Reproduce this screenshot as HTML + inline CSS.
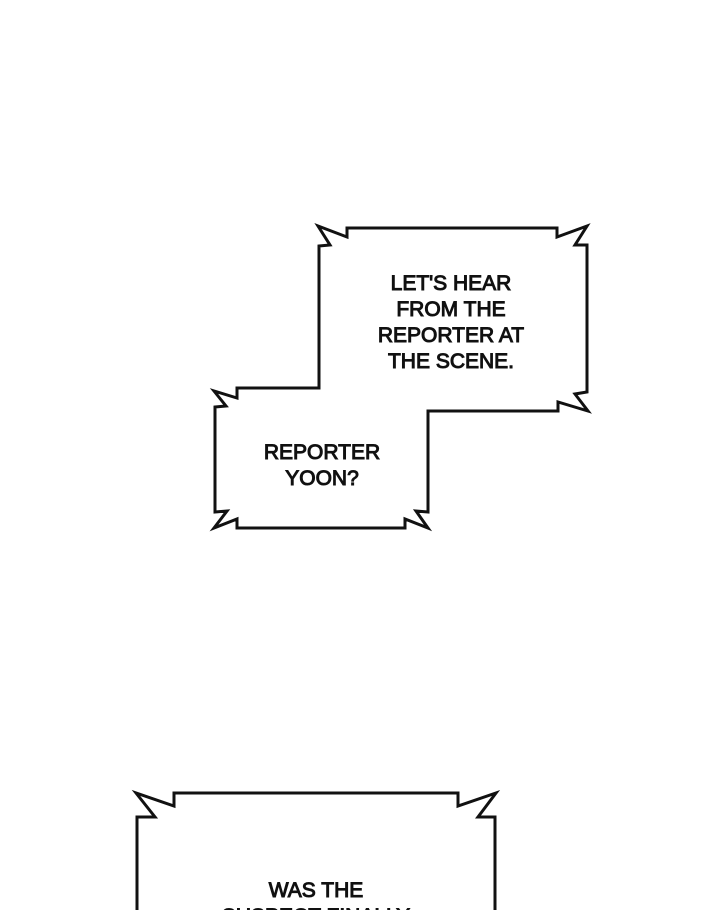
<!DOCTYPE html>
<html><head><meta charset="utf-8"><style>
html,body{margin:0;padding:0;background:#fff;}
svg{display:block}
text{font-family:"Liberation Sans",sans-serif;font-size:21px;fill:#111;stroke:#111;stroke-width:1;text-anchor:middle}
</style></head><body>
<svg width="728" height="910" viewBox="0 0 728 910" xmlns="http://www.w3.org/2000/svg">
<rect width="728" height="910" fill="#fff"/>
<path d="M347,228 L557,228 L557,237 L587,226 L575,245 L587,245 L587,392 L575,394 L588,411 L558,402 L558,411 L428,411 L428,512 L416,511 L428,528 L405,519 L405,528 L237,528 L237,519 L214,528 L227,511 L215,512 L215,407 L226,406 L214,391 L237,398 L237,388 L319,388 L319,246 L330,245 L318,226 L347,237 Z" fill="#fff" stroke="#111" stroke-width="3" stroke-linejoin="miter"/>
<path d="M174,793 L458,793 L458,806 L496,793 L478,817 L495,817 L495,912 L137,912 L137,817 L155,817 L136,793 L174,806 Z" fill="#fff" stroke="#111" stroke-width="3"/>
<text x="451" y="290">LET'S HEAR</text>
<text x="451" y="316">FROM THE</text>
<text x="451" y="342">REPORTER AT</text>
<text x="451" y="368">THE SCENE.</text>
<text x="322" y="459">REPORTER</text>
<text x="322" y="485">YOON?</text>
<text x="316" y="897">WAS THE</text>
<text x="316" y="923">SUSPECT FINALLY</text>
</svg>
</body></html>
